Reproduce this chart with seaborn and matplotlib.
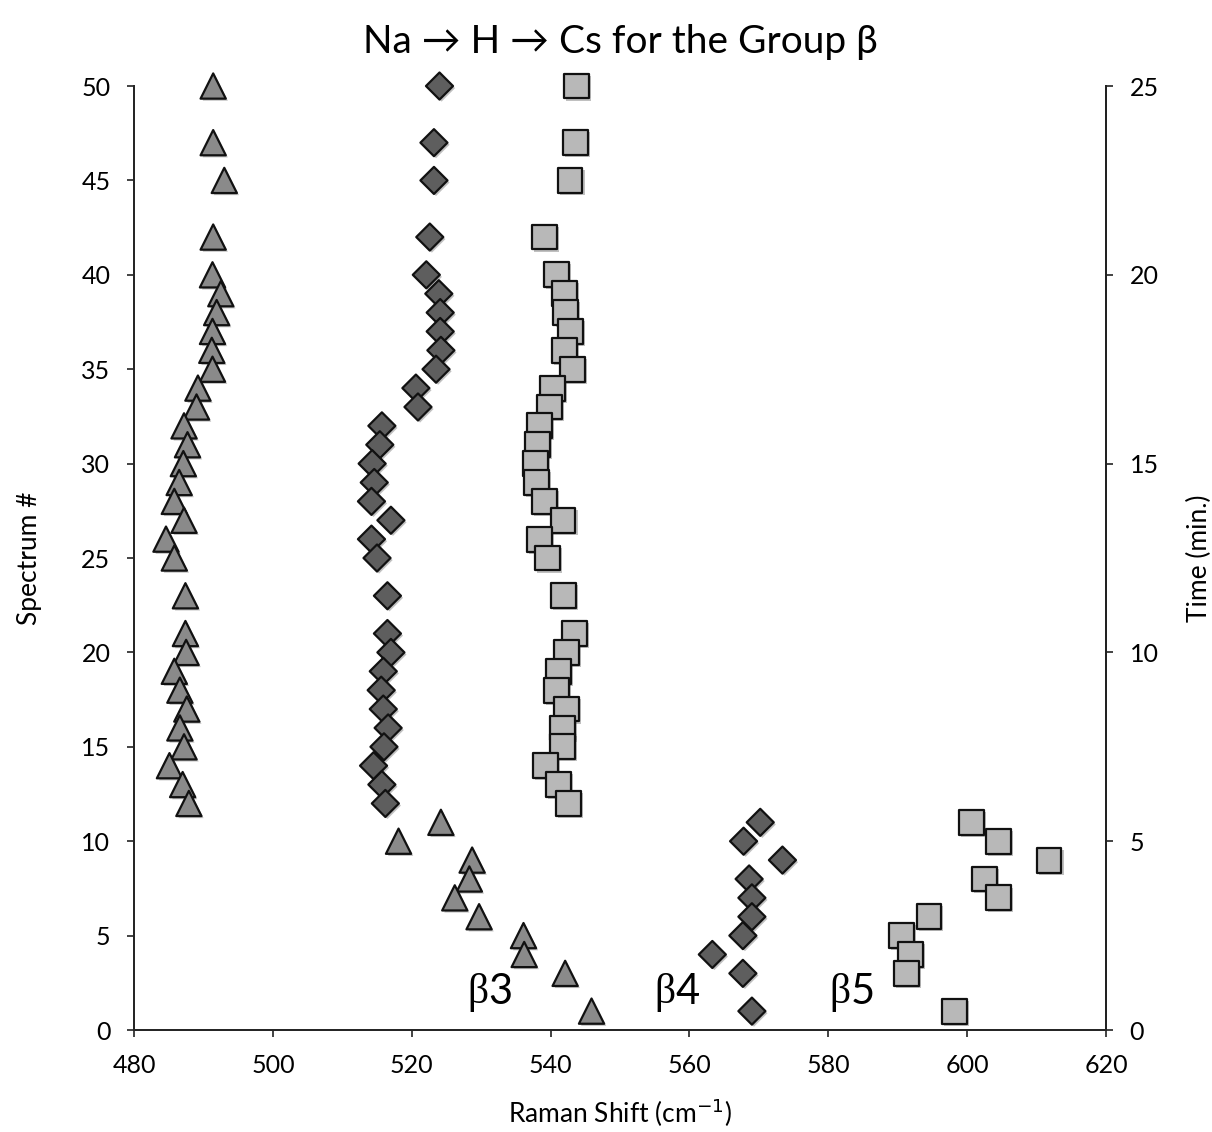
import numpy as np
import pandas as pd
import matplotlib
matplotlib.use("Agg")
import matplotlib.pyplot as plt
import matplotlib.patheffects as pe
import seaborn as sns

# Spectrum numbers (shared by all three bands)
spectrum = [50, 47, 45, 42, 40, 39, 38, 37, 36, 35, 34, 33, 32, 31, 30, 29, 28, 27,
            26, 25, 23, 21, 20, 19, 18, 17, 16, 15, 14, 13, 12, 11, 10, 9, 8, 7, 6,
            5, 4, 3, 1]

# Raman shift (cm-1) of the beta3 band
beta3_shift = [491.4, 491.4, 493.0, 491.4, 491.3, 492.5, 491.9, 491.3, 491.2, 491.3,
               489.2, 489.0, 487.2, 487.7, 487.1, 486.5, 485.8, 487.2, 484.6, 485.8,
               487.4, 487.4, 487.5, 485.8, 486.6, 487.6, 486.6, 487.2, 485.1, 487.0,
               487.9, 524.2, 518.1, 528.7, 528.3, 526.2, 529.7, 536.1, 536.2, 542.1,
               545.9]

# Raman shift (cm-1) of the beta4 band
beta4_shift = [524.0, 523.2, 523.2, 522.6, 522.1, 523.9, 524.1, 524.1, 524.2, 523.5,
               520.6, 520.9, 515.7, 515.4, 514.3, 514.6, 514.2, 517.0, 514.2, 515.0,
               516.5, 516.5, 517.0, 515.9, 515.6, 515.9, 516.6, 516.0, 514.5, 515.7,
               516.2, 570.2, 567.8, 573.4, 568.6, 569.0, 569.0, 567.7, 563.3, 567.7,
               569.0]

# Raman shift (cm-1) of the beta5 band
beta5_shift = [543.7, 543.6, 542.8, 539.1, 540.9, 542.0, 542.2, 542.9, 542.0, 543.1,
               540.3, 539.9, 538.4, 538.1, 537.8, 538.0, 539.1, 541.8, 538.4, 539.6,
               541.9, 543.4, 542.3, 541.2, 540.9, 542.3, 541.7, 541.7, 539.3, 541.1,
               542.6, 600.6, 604.5, 611.8, 602.5, 604.5, 594.5, 590.5, 591.8, 591.3,
               598.2]

band_digits = ["3", "4", "5"]
band_label_x = [531.0, 558.0, 583.2]
band_label_y = [2.0, 2.0, 2.0]

x_ticks = [480, 500, 520, 540, 560, 580, 600, 620]
y_ticks = [0, 5, 10, 15, 20, 25, 30, 35, 40, 45, 50]
time_ticks = [0, 5, 10, 15, 20, 25]

sns.set_theme(style="white")
plt.rcParams["font.family"] = ["Lato", "DejaVu Sans"]
plt.rcParams["text.color"] = "black"
plt.rcParams["axes.labelcolor"] = "black"
plt.rcParams["xtick.color"] = "black"
plt.rcParams["ytick.color"] = "black"

df = pd.DataFrame({
    "spectrum": spectrum * 3,
    "shift": beta3_shift + beta4_shift + beta5_shift,
    "band": ["b3"] * len(spectrum) + ["b4"] * len(spectrum) + ["b5"] * len(spectrum),
})

fig = plt.figure(figsize=(12.12, 11.32), dpi=100)
ax = fig.add_axes([0.1106, 0.0901, 0.8019, 0.8339])

shadow = [pe.SimplePatchShadow(offset=(1.5, -1.5), alpha=0.35, shadow_rgbFace="0.3"),
          pe.Normal()]

styles = {
    "b3": dict(marker="^", color="#8a8a8a", s=330),
    "b4": dict(marker="D", color="#5e5e5e", s=190),
    "b5": dict(marker="s", color="#b8b8b8", s=320),
}
for band, st in styles.items():
    sub = df[df["band"] == band]
    sns.scatterplot(data=sub, x="shift", y="spectrum", marker=st["marker"],
                    color=st["color"], s=st["s"], edgecolor="#111111",
                    linewidth=1.6, ax=ax, legend=False, zorder=3, clip_on=False)
for coll in ax.collections:
    coll.set_path_effects(shadow)

ax.set_xlim(480, 620)
ax.set_ylim(0, 50)
ax.set_xticks(x_ticks)
ax.set_yticks(y_ticks)
ax.tick_params(axis="both", labelsize=18, direction="out", length=5, width=1.2,
               color="#222222", left=True, bottom=True, pad=12)
ax.set_xlabel("Raman Shift (cm$^{-1}$)", fontsize=19, labelpad=14)
ax.set_ylabel("Spectrum #", fontsize=19, labelpad=28)
ax.set_title("Na \u2192 H \u2192 Cs for the Group \u03b2", fontsize=28, pad=24)

for sp in ["left", "bottom", "right"]:
    ax.spines[sp].set_color("#222222")
    ax.spines[sp].set_linewidth(1.4)
ax.spines["top"].set_visible(False)

ax2 = ax.twinx()
ax2.set_ylim(0, 25)
ax2.set_yticks(time_ticks)
ax2.tick_params(axis="y", labelsize=18, direction="out", length=5, width=1.2,
                color="#222222", right=True, pad=12)
ax2.set_ylabel("Time (min.)", fontsize=19, labelpad=20)
ax2.spines["top"].set_visible(False)
ax2.spines["right"].set_color("#222222")
ax2.spines["right"].set_linewidth(1.4)
ax2.grid(False)

# Band labels: serif beta followed by the band number
for dg, lx, ly in zip(band_digits, band_label_x, band_label_y):
    ax.text(lx, ly, "\u03b2", fontsize=30, ha="right", va="center",
            family=["Liberation Serif", "DejaVu Serif"])
    ax.text(lx, ly, dg, fontsize=30, ha="left", va="center")

fig.savefig("out.png", dpi=100, facecolor="white")
